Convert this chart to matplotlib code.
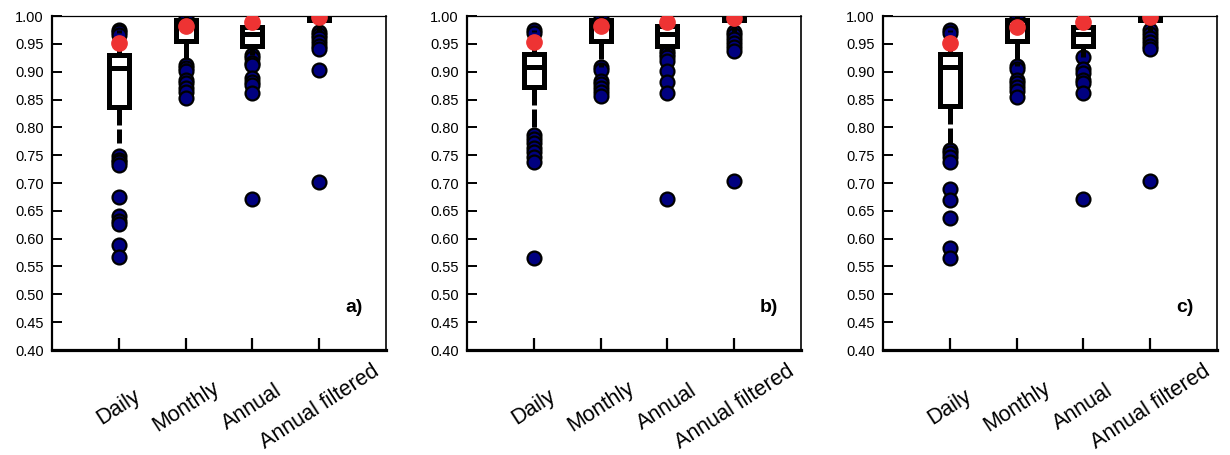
import matplotlib.pyplot as plt
import numpy as np

plt.rcParams['font.family'] = ['Liberation Sans', 'DejaVu Sans']

categories = ['Daily', 'Monthly', 'Annual', 'Annual filtered']
panel_labels = ['a)', 'b)', 'c)']

# box stats per panel: (whislo, q1, med, q3, whishi) for each category
box_stats = [
    [(0.771, 0.836, 0.907, 0.930, 0.975),
     (0.912, 0.955, 0.982, 0.992, 1.000),
     (0.930, 0.947, 0.967, 0.981, 1.000),
     (0.972, 0.992, 0.998, 1.000, 1.000)],
    [(0.795, 0.872, 0.909, 0.932, 0.975),
     (0.909, 0.955, 0.982, 0.992, 1.000),
     (0.938, 0.947, 0.967, 0.982, 1.000),
     (0.972, 0.992, 0.998, 1.000, 1.000)],
    [(0.770, 0.838, 0.908, 0.932, 0.975),
     (0.910, 0.955, 0.982, 0.992, 1.000),
     (0.927, 0.947, 0.967, 0.981, 1.000),
     (0.972, 0.992, 0.998, 1.000, 1.000)],
]

# individual points shown as navy dots
points = [
    [[0.975, 0.971, 0.966, 0.748, 0.742, 0.737, 0.732, 0.675, 0.640, 0.632, 0.626, 0.589, 0.567],
     [1.000, 0.912, 0.906, 0.902, 0.885, 0.879, 0.870, 0.864, 0.853],
     [0.930, 0.924, 0.915, 0.912, 0.888, 0.882, 0.876, 0.861, 0.671],
     [0.972, 0.966, 0.960, 0.953, 0.947, 0.940, 0.903, 0.702]],
    [[0.975, 0.970, 0.787, 0.779, 0.771, 0.763, 0.755, 0.747, 0.738, 0.565],
     [1.000, 0.909, 0.903, 0.884, 0.877, 0.870, 0.864, 0.857],
     [0.938, 0.932, 0.926, 0.920, 0.902, 0.882, 0.861, 0.671],
     [0.972, 0.965, 0.958, 0.951, 0.944, 0.937, 0.703]],
    [[0.975, 0.970, 0.759, 0.753, 0.746, 0.738, 0.690, 0.669, 0.637, 0.584, 0.565],
     [1.000, 0.910, 0.905, 0.885, 0.879, 0.873, 0.866, 0.855],
     [0.927, 0.904, 0.898, 0.885, 0.880, 0.861, 0.671],
     [0.975, 0.968, 0.961, 0.954, 0.947, 0.940, 0.703]],
]

# red reference values
red_vals = [
    [0.951, 0.982, 0.990, 0.998],
    [0.954, 0.982, 0.990, 0.997],
    [0.952, 0.981, 0.990, 0.998],
]

fig = plt.figure(figsize=(12.3, 4.55), dpi=100)
lefts = [52 / 1230, 467 / 1230, 883 / 1230]
pos = np.arange(1, 5)
lw = 3.6

for p in range(3):
    ax = fig.add_axes([lefts[p], 1 - 350 / 455, 334 / 1230, 334 / 455])
    stats = []
    for i, (lo, q1, med, q3, hi) in enumerate(box_stats[p]):
        stats.append(dict(whislo=lo, q1=q1, med=med, q3=q3, whishi=hi,
                          fliers=points[p][i]))
    ax.bxp(stats, positions=pos, widths=0.3, patch_artist=True,
           showcaps=False,
           boxprops=dict(facecolor='white', edgecolor='black', linewidth=lw, zorder=3),
           medianprops=dict(color='black', linewidth=lw, zorder=3.1),
           whiskerprops=dict(color='black', linewidth=lw, linestyle=(0, (3.6, 0.8)), zorder=3),
           flierprops=dict(marker='o', markerfacecolor='#000080', markeredgecolor='black',
                           markersize=10, markeredgewidth=1.6, zorder=2))
    ax.plot(pos, red_vals[p], 'o', color='#ee3333', markersize=11, zorder=4)

    ax.set_xlim(0, 5)
    ax.set_ylim(0.40, 1.00)
    ax.set_yticks(np.arange(0.40, 1.001, 0.05))
    ax.set_yticklabels(['%.2f' % v for v in np.arange(0.40, 1.001, 0.05)])
    ax.set_xticks(pos)
    labels = ax.set_xticklabels(categories, rotation=33, ha='center', va='center', fontsize=15.5)
    for t in labels:
        t.set_x(t.get_position()[0])
    ax.tick_params(axis='x', direction='in', length=9, width=1.6, pad=41)
    ax.tick_params(axis='y', direction='in', length=7, width=1.4, labelsize=10.5, pad=6)
    ax.spines['left'].set_linewidth(1.6)
    ax.spines['bottom'].set_linewidth(2.3)
    ax.spines['top'].set_linewidth(0.9)
    ax.spines['right'].set_linewidth(1.2)
    ax.text(4.52, 0.477, panel_labels[p], fontsize=14, fontweight='bold',
            ha='center', va='center')

fig.savefig('out.png', dpi=100)
